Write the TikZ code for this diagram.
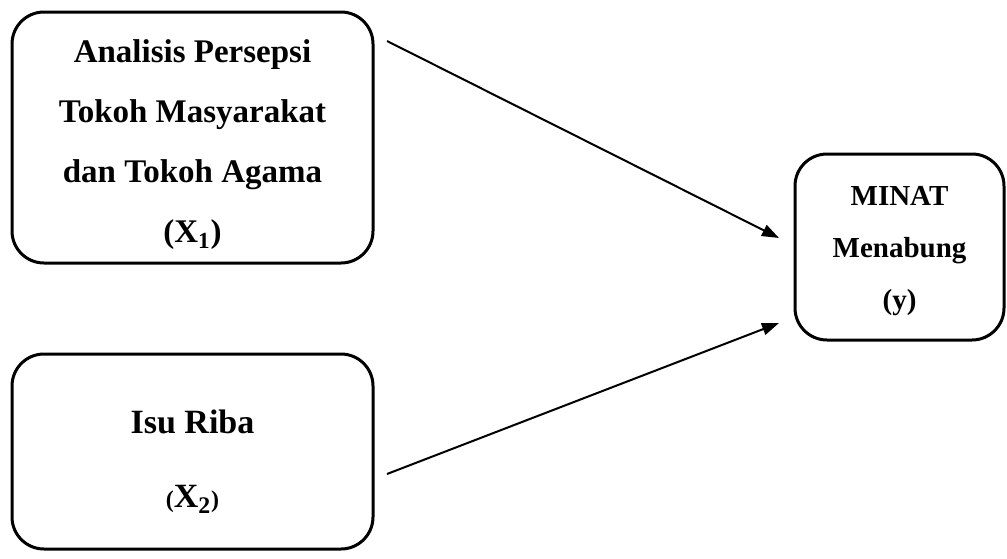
\documentclass[tikz,border=0pt]{standalone}
\usepackage{fontspec}
\setmainfont{Liberation Serif}
\usetikzlibrary{arrows.meta}

\begin{document}
\begin{tikzpicture}[x=0.5pt, y=-0.5pt,
    box/.style={draw, line width=1.5pt, rounded corners=16pt, align=center, font=\bfseries},
    arr/.style={line width=1pt, -{Triangle[length=8.5pt, width=6pt]}}]
                \useasboundingbox (0,0) rectangle (1007,558);
                \node[box, minimum width=180.5pt, minimum height=125.5pt, text height=109pt,
                      font=\bfseries\fontsize{16.5}{30}\selectfont] (X1) at (192.5,137.5)
                      {Analisis Persepsi\\Tokoh Masyarakat\\dan Tokoh Agama\\(X\textsubscript{1})};
                \node[box, minimum width=180.5pt, minimum height=97.5pt, text height=59pt,
                      font=\bfseries\fontsize{17}{37}\selectfont] (X2) at (192.5,451.5)
                      {Isu Riba\\{\fontsize{12}{12}\selectfont(}X\textsubscript{2}{\fontsize{12}{12}\selectfont)}};
                \node[box, minimum width=104.5pt, minimum height=93pt, text height=66pt,
                      font=\bfseries\fontsize{14.5}{26}\selectfont] (Y) at (899.5,247)
                      {MINAT\\Menabung\\(y)};
            
                \coordinate (s1) at (387,41);
                \coordinate (t1) at (779,238);
                \coordinate (s2) at (387,474);
                \coordinate (t2) at (779,323);
                \draw[arr] (s1) -- (t1);
                \draw[arr] (s2) -- (t2);
            \end{tikzpicture}
\end{document}
